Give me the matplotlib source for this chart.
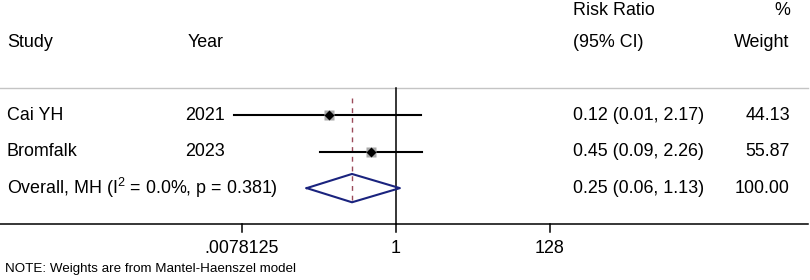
import matplotlib
matplotlib.use("Agg")
import matplotlib.pyplot as plt
import matplotlib.transforms as mtrans

plt.rcParams['font.family'] = ['Liberation Sans', 'DejaVu Sans']
plt.rcParams['mathtext.fontset'] = 'custom'
plt.rcParams['mathtext.rm'] = 'Liberation Sans'
plt.rcParams['mathtext.it'] = 'Liberation Sans:italic'

# ---- data ----
studies = ["Cai YH", "Bromfalk"]
years = ["2021", "2023"]
rr = [0.12, 0.45]
rr_lo = [0.006, 0.09]
rr_hi = [2.17, 2.26]
ci_labels = ["0.12 (0.01, 2.17)", "0.45 (0.09, 2.26)"]
weights = [44.13, 55.87]
weight_labels = ["44.13", "55.87"]

overall_label = r"Overall, MH (I$^{2}$ = 0.0%, p = 0.381)"
overall_rr = 0.25
overall_lo = 0.06
overall_hi = 1.13
overall_ci_label = "0.25 (0.06, 1.13)"
overall_weight_label = "100.00"

tick_values = [0.0078125, 1, 128]
tick_labels = [".0078125", "1", "128"]
note = "NOTE: Weights are from Mantel-Haenszel model"

# ---- figure ----
W, H = 810, 280
fig = plt.figure(figsize=(W / 100, H / 100), dpi=100)
ax = fig.add_axes([0, 0, 1, 1])
ax.set_xscale('log', base=2)
ax.set_xlim(2 ** -18, 2 ** 18.82)
ax.set_ylim(4.53, -3.18)
ax.axis('off')

fs = 12.9
tx = mtrans.blended_transform_factory(ax.transAxes, ax.transData)
def px(x):
    return x / W

# headers
ax.text(px(7), -2.0, "Study", transform=tx, fontsize=fs, va='center', ha='left')
ax.text(px(188), -2.0, "Year", transform=tx, fontsize=fs, va='center', ha='left')
ax.text(px(573), -2.9, "Risk Ratio", transform=tx, fontsize=fs, va='center', ha='left')
ax.text(px(573), -2.0, "(95% CI)", transform=tx, fontsize=fs, va='center', ha='left')
ax.text(px(790), -2.9, "%", transform=tx, fontsize=fs, va='center', ha='right')
ax.text(px(789), -2.0, "Weight", transform=tx, fontsize=fs, va='center', ha='right')

# grey separator
ax.plot([0, px(808)], [-0.76, -0.76], transform=tx, color='#c4c4c4', lw=1.0)

# null line
ax.plot([1, 1], [-0.76, 2.99], color='black', lw=1.1)
# overall dashed line
ax.plot([overall_rr, overall_rr], [-0.48, 2.38], color='#9b4a5a', lw=1.0,
        dashes=(3.5, 3.5))

# studies
for i in range(len(studies)):
    ax.text(px(7), i, studies[i], transform=tx, fontsize=fs, va='center', ha='left')
    ax.text(px(225), i, years[i], transform=tx, fontsize=fs, va='center', ha='right')
    ax.plot([rr_lo[i], rr_hi[i]], [i, i], color='black', lw=1.5, zorder=3)
    side = 7.4 * (weights[i] / max(weights)) ** 0.5
    ax.plot([rr[i]], [i], marker='s', ms=side, color='#a9a9a9', mec='none', zorder=4)
    ax.plot([rr[i]], [i], marker='D', ms=4.6, color='black', mec='none', zorder=5)
    ax.text(px(573), i, ci_labels[i], transform=tx, fontsize=fs, va='center', ha='left')
    ax.text(px(790), i, weight_labels[i], transform=tx, fontsize=fs, va='center', ha='right')

# overall
yo = len(studies)
ax.text(px(7), yo, overall_label, transform=tx, fontsize=fs, va='center', ha='left')
dh = 0.39
ax.plot([overall_lo, overall_rr, overall_hi, overall_rr, overall_lo],
        [yo, yo - dh, yo, yo + dh, yo], color='#1a237e', lw=1.5, zorder=4)
ax.text(px(573), yo, overall_ci_label, transform=tx, fontsize=fs, va='center', ha='left')
ax.text(px(790), yo, overall_weight_label, transform=tx, fontsize=fs, va='center', ha='right')

# axis
ax.plot([0, px(808)], [2.99, 2.99], transform=tx, color='black', lw=1.1)
for v, lab in zip(tick_values, tick_labels):
    ax.plot([v, v], [2.99, 3.21], color='black', lw=1.1)
    ax.text(v, 3.65, lab, fontsize=fs, va='center', ha='center')

ax.text(px(5), 4.23, note, transform=tx, fontsize=9.6, va='center', ha='left')

fig.savefig("out.png", dpi=100)
